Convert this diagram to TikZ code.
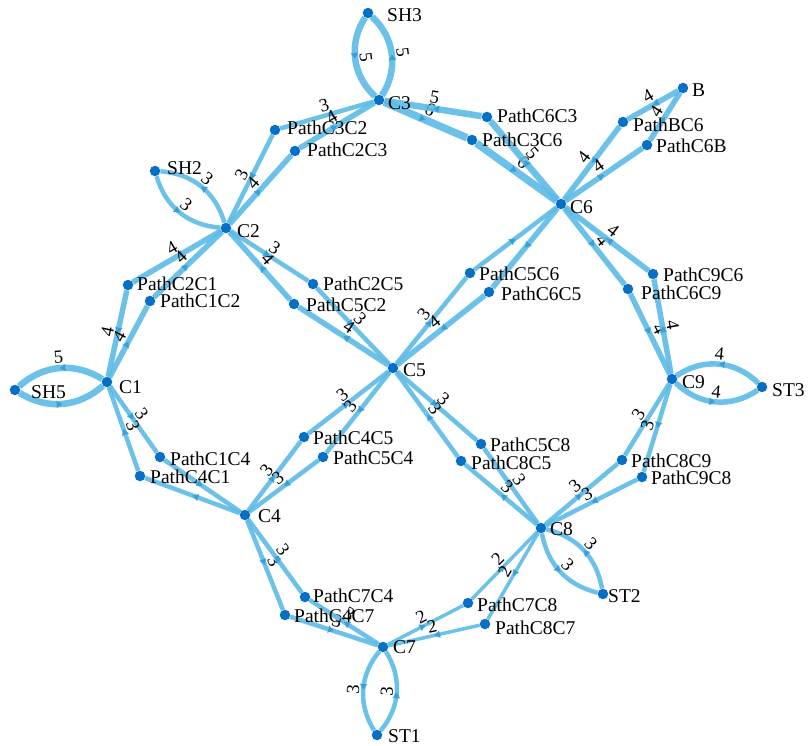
\documentclass[tikz,border=0pt]{standalone}
\usepackage{fontspec}
\setmainfont{Liberation Serif}
\usetikzlibrary{decorations.markings,arrows.meta,backgrounds}
\definecolor{edgeblue}{RGB}{92,186,230}
\definecolor{tipblue}{RGB}{55,160,218}
\definecolor{dotblue}{RGB}{8,112,196}
\tikzset{
 vtx/.style={circle,fill=dotblue,inner sep=0pt,minimum size=10.5pt},
 lbl/.style={anchor=base west,inner sep=0pt,font=\fontsize{19.5}{21}\selectfont},
 lnk/.style={draw=edgeblue,line width=#1,draw opacity=0.9,postaction={decorate},
   decoration={markings,mark=at position 0.5 with {\arrow[color=tipblue]{Triangle[width=7pt,length=6pt]}}}},
 wt/.style={midway,sloped,above,inner sep=1.5pt,font=\fontsize{18.5}{18.5}\selectfont},
}
\newcommand\gnode[6]{\node[vtx] (#1) at (#2,#3) {}; \node[lbl] (#1-t) at (#2+#4,#3+#5) {#6};}
\begin{document}
\begin{tikzpicture}[x=1pt,y=-1pt]
\useasboundingbox (0,0) rectangle (808,746);
\gnode{SH3}{368}{13}{19}{9}{SH3}
\gnode{C3}{379}{100}{9}{10}{C3}
\gnode{PathC3C2}{275}{130}{12}{5}{PathC3C2}
\gnode{PathC2C3}{295}{151}{12}{6}{PathC2C3}
\gnode{PathC6C3}{487}{117}{10}{6}{PathC6C3}
\gnode{PathC3C6}{472}{140}{10}{7}{PathC3C6}
\gnode{B}{683}{88}{9}{9}{B}
\gnode{PathBC6}{623}{122}{10}{10}{PathBC6}
\gnode{PathC6B}{647}{145}{9}{8}{PathC6B}
\gnode{C6}{561}{204}{9}{9}{C6}
\gnode{SH2}{155}{171}{12}{4}{SH2}
\gnode{C2}{226}{228}{11}{9}{C2}
\gnode{PathC2C1}{128}{285}{9}{5}{PathC2C1}
\gnode{PathC1C2}{150}{301}{10}{6}{PathC1C2}
\gnode{PathC2C5}{313}{284}{10}{6}{PathC2C5}
\gnode{PathC5C2}{294}{304}{12}{7}{PathC5C2}
\gnode{PathC5C6}{470}{273}{9}{7}{PathC5C6}
\gnode{PathC6C5}{489}{292}{12}{8}{PathC6C5}
\gnode{PathC9C6}{653}{274}{10}{7}{PathC9C6}
\gnode{PathC6C9}{628}{289}{13}{10}{PathC6C9}
\gnode{C1}{107}{382}{12}{11}{C1}
\gnode{SH5}{15}{390}{16}{8}{SH5}
\gnode{C5}{393}{368}{10}{8}{C5}
\gnode{C9}{672}{379}{10}{9}{C9}
\gnode{ST3}{762}{387}{10}{9}{ST3}
\gnode{PathC1C4}{160}{457}{10}{8}{PathC1C4}
\gnode{PathC4C1}{140}{476}{10}{7}{PathC4C1}
\gnode{PathC4C5}{304}{437}{9}{7}{PathC4C5}
\gnode{PathC5C4}{323}{457}{10}{7}{PathC5C4}
\gnode{PathC5C8}{481}{444}{9}{7}{PathC5C8}
\gnode{PathC8C5}{461}{461}{10}{8}{PathC8C5}
\gnode{PathC8C9}{622}{460}{9}{7}{PathC8C9}
\gnode{PathC9C8}{642}{477}{9}{7}{PathC9C8}
\gnode{C4}{245}{515}{13}{7}{C4}
\gnode{C8}{541}{528}{9}{7}{C8}
\gnode{ST2}{603}{594}{5}{8}{ST2}
\gnode{PathC7C4}{305}{597}{8}{5}{PathC7C4}
\gnode{PathC4C7}{285}{615}{9}{7}{PathC4C7}
\gnode{C7}{383}{647}{10}{6}{C7}
\gnode{ST1}{377}{735}{11}{7}{ST1}
\gnode{PathC7C8}{468}{603}{9}{8}{PathC7C8}
\gnode{PathC8C7}{485}{624}{10}{10}{PathC8C7}
\begin{pgfonlayer}{background}
% C3 - SH3
\draw[lnk=6.5pt] (C3) to[bend right=40] node[wt]{5} (SH3);
\draw[lnk=6.5pt] (SH3) to[bend right=40] node[wt]{5} (C3);
% C3 - C2
\draw[lnk=4.5pt] (C3) -- node[wt]{3} (PathC3C2);
\draw[lnk=4.5pt] (PathC3C2) -- node[wt]{3} (C2);
\draw[lnk=5.5pt] (C2) -- node[wt]{4} (PathC2C3);
\draw[lnk=5.5pt] (PathC2C3) -- node[wt]{4} (C3);
% C3 - C6
\draw[lnk=7.5pt] (C3) -- node[wt]{6} (PathC3C6);
\draw[lnk=7.5pt] (PathC3C6) -- node[wt]{6} (C6);
\draw[lnk=6.5pt] (C6) -- node[wt]{5} (PathC6C3);
\draw[lnk=6.5pt] (PathC6C3) -- node[wt]{5} (C3);
% C2 - SH2
\draw[lnk=4.5pt] (C2) to[bend right=35] node[wt]{3} (SH2);
\draw[lnk=4.5pt] (SH2) to[bend right=35] node[wt]{3} (C2);
% C2 - C1
\draw[lnk=5.5pt] (C2) -- node[wt]{4} (PathC2C1);
\draw[lnk=5.5pt] (PathC2C1) -- node[wt]{4} (C1);
\draw[lnk=5.5pt] (C1) -- node[wt]{4} (PathC1C2);
\draw[lnk=5.5pt] (PathC1C2) -- node[wt]{4} (C2);
% C2 - C5
\draw[lnk=4.5pt] (C2) -- node[wt]{3} (PathC2C5);
\draw[lnk=4.5pt] (PathC2C5) -- node[wt]{3} (C5);
\draw[lnk=5.5pt] (C5) -- node[wt]{4} (PathC5C2);
\draw[lnk=5.5pt] (PathC5C2) -- node[wt]{4} (C2);
% C1 - SH5
\draw[lnk=6.5pt] (C1) to[bend right=37] node[wt]{5} (SH5);
\draw[lnk=6.5pt] (SH5) to[bend right=37] (C1);
% C1 - C4
\draw[lnk=4.5pt] (C1) -- node[wt]{3} (PathC1C4);
\draw[lnk=4.5pt] (PathC1C4) -- (C4);
\draw[lnk=4.5pt] (C4) -- (PathC4C1);
\draw[lnk=4.5pt] (PathC4C1) -- node[wt]{3} (C1);
% C5 - C6
\draw[lnk=4.5pt] (C5) -- node[wt]{3} (PathC5C6);
\draw[lnk=4.5pt] (PathC5C6) -- (C6);
\draw[lnk=5.5pt] (C6) -- (PathC6C5);
\draw[lnk=5.5pt] (PathC6C5) -- node[wt]{4} (C5);
% C6 - B
\draw[lnk=5.5pt] (B) -- node[wt]{4} (PathBC6);
\draw[lnk=5.5pt] (PathBC6) -- node[wt]{4} (C6);
\draw[lnk=5.5pt] (C6) -- node[wt]{4} (PathC6B);
\draw[lnk=5.5pt] (PathC6B) -- node[wt]{4} (B);
% C6 - C9
\draw[lnk=5.5pt] (C6) -- node[wt]{4} (PathC6C9);
\draw[lnk=5.5pt] (PathC6C9) -- node[wt]{4} (C9);
\draw[lnk=5.5pt] (C9) -- node[wt]{4} (PathC9C6);
\draw[lnk=5.5pt] (PathC9C6) -- node[wt]{4} (C6);
% C9 - ST3
\draw[lnk=5.5pt] (C9) to[bend right=40] node[wt]{4} (ST3);
\draw[lnk=5.5pt] (ST3) to[bend right=40] node[wt]{4} (C9);
% C4 - C5
\draw[lnk=4.5pt] (C4) -- node[wt]{3} (PathC4C5);
\draw[lnk=4.5pt] (PathC4C5) -- node[wt]{3} (C5);
\draw[lnk=4.5pt] (C5) -- node[wt]{3} (PathC5C4);
\draw[lnk=4.5pt] (PathC5C4) -- node[wt]{3} (C4);
% C5 - C8
\draw[lnk=4.5pt] (C5) -- node[wt]{3} (PathC5C8);
\draw[lnk=4.5pt] (PathC5C8) -- node[wt]{3} (C8);
\draw[lnk=4.5pt] (C8) -- node[wt]{3} (PathC8C5);
\draw[lnk=4.5pt] (PathC8C5) -- node[wt]{3} (C5);
% C8 - C9
\draw[lnk=4.5pt] (C8) -- node[wt]{3} (PathC8C9);
\draw[lnk=4.5pt] (PathC8C9) -- node[wt]{3} (C9);
\draw[lnk=4.5pt] (C9) -- node[wt]{3} (PathC9C8);
\draw[lnk=4.5pt] (PathC9C8) -- node[wt]{3} (C8);
% C8 - ST2
\draw[lnk=4.5pt] (C8) to[bend right=33] node[wt]{3} (ST2);
\draw[lnk=4.5pt] (ST2) to[bend right=33] node[wt]{3} (C8);
% C4 - C7
\draw[lnk=4.5pt] (C4) -- node[wt]{3} (PathC4C7);
\draw[lnk=4.5pt] (PathC4C7) -- node[wt]{3} (C7);
\draw[lnk=4.5pt] (C7) -- node[wt]{3} (PathC7C4);
\draw[lnk=4.5pt] (PathC7C4) -- node[wt]{3} (C4);
% C7 - C8
\draw[lnk=3.5pt] (C7) -- node[wt]{2} (PathC7C8);
\draw[lnk=3.5pt] (PathC7C8) -- node[wt]{2} (C8);
\draw[lnk=3.5pt] (C8) -- node[wt]{2} (PathC8C7);
\draw[lnk=3.5pt] (PathC8C7) -- node[wt]{2} (C7);
% C7 - ST1
\draw[lnk=4.5pt] (C7) to[bend right=36] node[wt]{3} (ST1);
\draw[lnk=4.5pt] (ST1) to[bend right=36] node[wt]{3} (C7);
\end{pgfonlayer}
\end{tikzpicture}
\end{document}
